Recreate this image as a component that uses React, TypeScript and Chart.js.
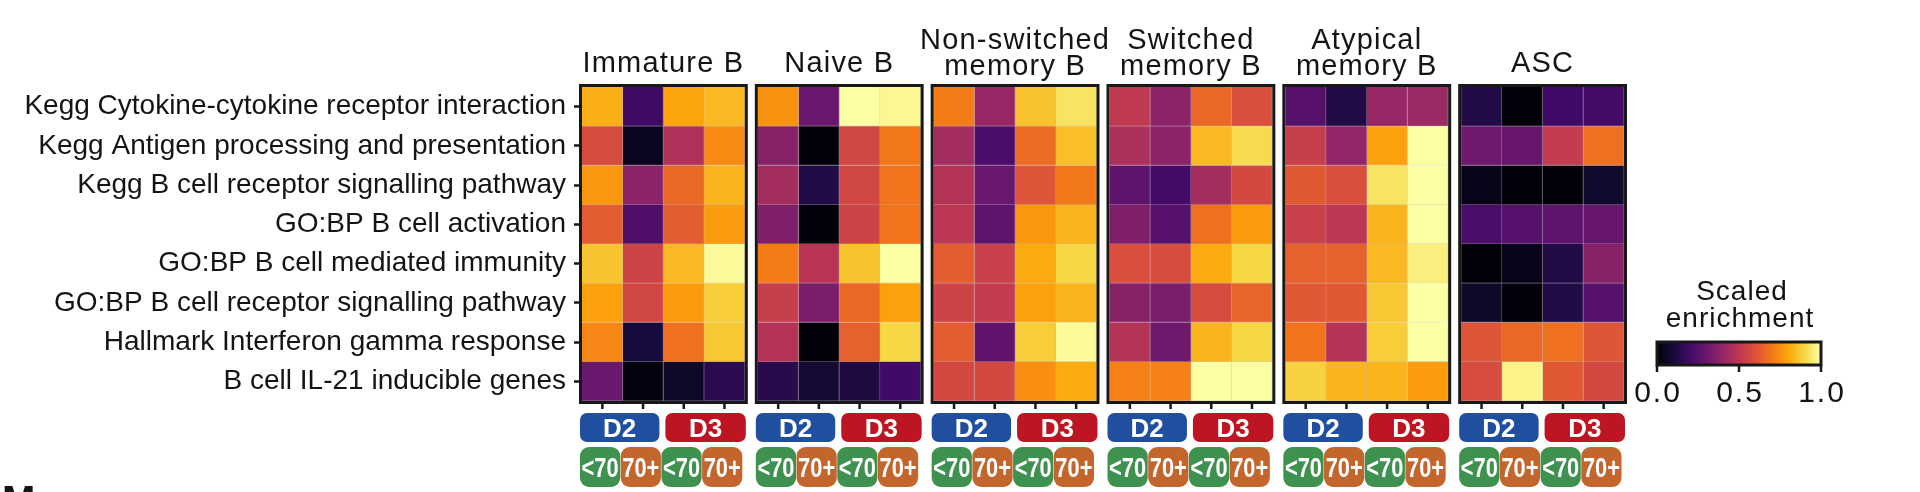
import React, { useEffect, useRef } from "react";
import { Chart, registerables } from "chart.js";

Chart.register(...registerables);

// ---------------- data ----------------
const rowLabels = [
  "Kegg Cytokine-cytokine receptor interaction",
  "Kegg Antigen processing and presentation",
  "Kegg B cell receptor signalling pathway",
  "GO:BP B cell activation",
  "GO:BP B cell mediated immunity",
  "GO:BP B cell receptor signalling pathway",
  "Hallmark Interferon gamma response",
  "B cell IL-21 inducible genes",
];

const panelTitles = [
  ["Immature B"],
  ["Naive B"],
  ["Non-switched", "memory B"],
  ["Switched", "memory B"],
  ["Atypical", "memory B"],
  ["ASC"],
];

const donorLabels = ["D2", "D3"];
const ageLabels = ["<70", "70+", "<70", "70+"];

// columns: D2 <70, D2 70+, D3 <70, D3 70+
const immatureB = [
  [0.82, 0.19, 0.8, 0.84],
  [0.58, 0.05, 0.47, 0.74],
  [0.77, 0.38, 0.66, 0.83],
  [0.63, 0.23, 0.63, 0.78],
  [0.86, 0.55, 0.84, 0.99],
  [0.79, 0.56, 0.78, 0.88],
  [0.73, 0.11, 0.68, 0.87],
  [0.3, 0.02, 0.07, 0.15],
];
const naiveB = [
  [0.76, 0.3, 1.0, 0.98],
  [0.37, 0.01, 0.56, 0.7],
  [0.44, 0.13, 0.56, 0.69],
  [0.35, 0.01, 0.55, 0.69],
  [0.71, 0.49, 0.86, 1.0],
  [0.53, 0.34, 0.66, 0.79],
  [0.48, 0.01, 0.64, 0.9],
  [0.14, 0.09, 0.12, 0.2],
];
const nonSwitchedMemoryB = [
  [0.71, 0.41, 0.86, 0.93],
  [0.44, 0.22, 0.67, 0.85],
  [0.48, 0.3, 0.61, 0.7],
  [0.5, 0.27, 0.77, 0.83],
  [0.63, 0.54, 0.81, 0.9],
  [0.55, 0.52, 0.79, 0.83],
  [0.63, 0.28, 0.88, 0.99],
  [0.57, 0.57, 0.75, 0.81],
];
const switchedMemoryB = [
  [0.51, 0.38, 0.66, 0.59],
  [0.46, 0.38, 0.84, 0.91],
  [0.27, 0.21, 0.44, 0.57],
  [0.35, 0.25, 0.68, 0.78],
  [0.59, 0.58, 0.81, 0.9],
  [0.37, 0.34, 0.58, 0.65],
  [0.48, 0.31, 0.83, 0.9],
  [0.72, 0.72, 1.0, 1.0],
];
const atypicalMemoryB = [
  [0.25, 0.13, 0.41, 0.42],
  [0.53, 0.4, 0.79, 1.0],
  [0.62, 0.59, 0.93, 1.0],
  [0.54, 0.5, 0.83, 1.0],
  [0.64, 0.64, 0.84, 0.96],
  [0.62, 0.62, 0.87, 1.0],
  [0.69, 0.48, 0.88, 1.0],
  [0.89, 0.83, 0.83, 0.78],
];
const ascValues = [
  [0.13, 0.01, 0.2, 0.21],
  [0.31, 0.29, 0.52, 0.68],
  [0.04, 0.01, 0.01, 0.08],
  [0.22, 0.25, 0.27, 0.29],
  [0.01, 0.04, 0.13, 0.37],
  [0.07, 0.01, 0.13, 0.25],
  [0.61, 0.66, 0.68, 0.61],
  [0.58, 0.97, 0.62, 0.57],
];

const panels = [immatureB, naiveB, nonSwitchedMemoryB, switchedMemoryB, atypicalMemoryB, ascValues];

const colorbarTicks = [0, 0.5, 1];
const colorbarTitle = ["Scaled", "enrichment"];
const nextPanelLetter = "M";

// ---------------- styling helpers ----------------
const FONT = "'Liberation Sans', Arial, Helvetica, sans-serif";
const GAP = 0.32; // gap between panels, in column units
const INFERNO = [
  "#000004", "#160b39", "#420a68", "#6a176e", "#932667", "#bc3754",
  "#dd513a", "#f37819", "#fca50a", "#f6d746", "#fcffa4",
];
const DONOR_COLORS = ["#1f4f9e", "#bd1622"];
const AGE_COLORS = ["#3f9150", "#c2662e"];

function hexToRgb(h: string): number[] {
  const n = parseInt(h.slice(1), 16);
  return [(n >> 16) & 255, (n >> 8) & 255, n & 255];
}
const INFERNO_RGB = INFERNO.map(hexToRgb);

function infernoRgb(v: number): number[] {
  const t = Math.min(1, Math.max(0, v)) * 10;
  const i = Math.min(9, Math.floor(t));
  const f = t - i;
  const a = INFERNO_RGB[i];
  const b = INFERNO_RGB[i + 1];
  return [0, 1, 2].map((k) => Math.round(a[k] + (b[k] - a[k]) * f));
}
const rgb = (c: number[]) => `rgb(${c[0]},${c[1]},${c[2]})`;
function cellBorder(v: number): string {
  const c = infernoRgb(v);
  const g = [190, 185, 185];
  return rgb(c.map((k, i) => Math.round(k * 0.6 + g[i] * 0.4)));
}

const panelStart = (p: number) => p * (4 + GAP);

// ---------------- decoration plugin ----------------
const decorPlugin = {
  id: "heatmapDecor",
  afterDraw(chart: any) {
    const { ctx, chartArea, scales } = chart;
    const xs = scales.x;
    const top = chartArea.top;
    const bottom = chartArea.bottom;
    ctx.save();

    panels.forEach((_, p) => {
      const s = panelStart(p);
      const x0 = xs.getPixelForValue(s);
      const x1 = xs.getPixelForValue(s + 4);
      const xm = xs.getPixelForValue(s + 2);

      // frame
      ctx.strokeStyle = "#181818";
      ctx.lineWidth = 3;
      ctx.strokeRect(x0 - 1.5, top - 1.5, x1 - x0 + 3, bottom - top + 3);

      // column tick marks
      ctx.lineWidth = 2.5;
      for (let c = 0; c < 4; c++) {
        const cx = xs.getPixelForValue(s + c + 0.5);
        ctx.beginPath();
        ctx.moveTo(cx, bottom + 2);
        ctx.lineTo(cx, bottom + 8);
        ctx.stroke();
      }

      // title
      ctx.fillStyle = "#141414";
      ctx.font = `29px ${FONT}`;
      ctx.textAlign = "center";
      ctx.textBaseline = "alphabetic";
      (ctx as any).letterSpacing = "1.2px";
      const lines = panelTitles[p];
      const bases = lines.length === 1 ? [72] : [49, 75];
      lines.forEach((t, i) => ctx.fillText(t, (x0 + x1) / 2, bases[i]));
      (ctx as any).letterSpacing = "0px";

      // donor badges
      donorLabels.forEach((d, k) => {
        const bx0 = k === 0 ? x0 - 2 : xm + 2;
        const bx1 = k === 0 ? xm - 4 : x1 + 1;
        ctx.beginPath();
        ctx.roundRect(bx0, 413, bx1 - bx0, 29, 7);
        ctx.fillStyle = DONOR_COLORS[k];
        ctx.fill();
        ctx.fillStyle = "#ffffff";
        ctx.font = `bold 26px ${FONT}`;
        ctx.fillText(d, (bx0 + bx1) / 2, 437);
      });

      // age badges
      ageLabels.forEach((a, c) => {
        const ex0 = xs.getPixelForValue(s + c);
        const ex1 = xs.getPixelForValue(s + c + 1);
        const bx = ex0 - 2;
        const bw = ex1 - ex0 - 0.5;
        ctx.beginPath();
        ctx.roundRect(bx, 447, bw, 40, 9);
        ctx.fillStyle = AGE_COLORS[c % 2];
        ctx.fill();
        ctx.save();
        ctx.translate(bx + bw / 2, 477);
        ctx.scale(0.78, 1);
        ctx.fillStyle = "#ffffff";
        ctx.font = `bold 28px ${FONT}`;
        ctx.fillText(a, 0, 0);
        ctx.restore();
      });
    });

    // colour bar legend
    const cbX0 = 1657;
    const cbX1 = 1821;
    const cbY0 = 342;
    const cbY1 = 365;
    const grad = ctx.createLinearGradient(cbX0, 0, cbX1, 0);
    INFERNO.forEach((c, i) => grad.addColorStop(i / (INFERNO.length - 1), c));
    ctx.fillStyle = grad;
    ctx.fillRect(cbX0, cbY0, cbX1 - cbX0, cbY1 - cbY0);
    ctx.strokeStyle = "#181818";
    ctx.lineWidth = 3;
    ctx.strokeRect(cbX0, cbY0, cbX1 - cbX0, cbY1 - cbY0);
    ctx.lineWidth = 2.5;
    ctx.fillStyle = "#141414";
    ctx.font = `30px ${FONT}`;
    ctx.textAlign = "center";
    (ctx as any).letterSpacing = "2px";
    colorbarTicks.forEach((t) => {
      const tx = cbX0 + t * (cbX1 - cbX0);
      ctx.beginPath();
      ctx.moveTo(tx, cbY1);
      ctx.lineTo(tx, cbY1 + 7);
      ctx.stroke();
      ctx.fillText(t.toFixed(1), tx + 1, 402);
    });
    ctx.font = `28px ${FONT}`;
    (ctx as any).letterSpacing = "1px";
    ctx.fillText(colorbarTitle[0], 1742, 300);
    ctx.fillText(colorbarTitle[1], 1740, 327);
    (ctx as any).letterSpacing = "0px";

    // top of the next figure panel letter, cut off by the image edge
    ctx.textAlign = "left";
    ctx.font = `bold 40px ${FONT}`;
    ctx.fillStyle = "#141414";
    ctx.fillText(nextPanelLetter, 2, 514);
    ctx.restore();
  },
};

// ---------------- component ----------------
export default function App() {
  const ref = useRef<HTMLCanvasElement>(null);

  useEffect(() => {
    const canvas = ref.current;
    if (!canvas) return;

    const datasets: any[] = [];
    panels.forEach((panel, p) => {
      for (let c = 0; c < 4; c++) {
        const s = panelStart(p) + c;
        datasets.push({
          label: `${panelTitles[p].join(" ")} ${ageLabels[c]}`,
          data: panel.map(() => [s, s + 1]),
          backgroundColor: panel.map((row) => rgb(infernoRgb(row[c]))),
          borderColor: panel.map((row) => cellBorder(row[c])),
          borderWidth: { top: 0, left: 0, right: 1, bottom: 1 },
          borderSkipped: false,
        });
      }
    });

    const chart = new Chart(canvas, {
      type: "bar",
      data: { labels: rowLabels, datasets },
      plugins: [decorPlugin],
      options: {
        indexAxis: "y",
        animation: false,
        responsive: false,
        devicePixelRatio: 1,
        events: [],
        layout: { padding: { left: 0, right: 296, top: 87, bottom: 91 } },
        datasets: { bar: { grouped: false, barPercentage: 1, categoryPercentage: 1 } } as any,
        plugins: {
          legend: { display: false },
          tooltip: { enabled: false },
          title: { display: false },
        },
        scales: {
          x: {
            type: "linear",
            display: false,
            min: 0,
            max: 24 + 5 * GAP,
          },
          y: {
            type: "category",
            offset: true,
            border: { display: false },
            grid: {
              display: true,
              drawOnChartArea: false,
              drawTicks: true,
              tickLength: 8,
              tickWidth: 2.5,
              tickColor: "#181818",
              offset: false,
            },
            ticks: {
              color: "#141414",
              padding: 8,
              font: { family: FONT, size: 28 },
            },
            afterFit: (scale: any) => {
              scale.width = 582;
            },
          },
        },
      } as any,
    });
    return () => chart.destroy();
  }, []);

  return (
    <div style={{ position: "absolute", left: 0, top: 0, width: 1920, height: 492, background: "#ffffff" }}>
      <canvas ref={ref} width={1920} height={492} style={{ display: "block", width: 1920, height: 492 }} />
    </div>
  );
}
